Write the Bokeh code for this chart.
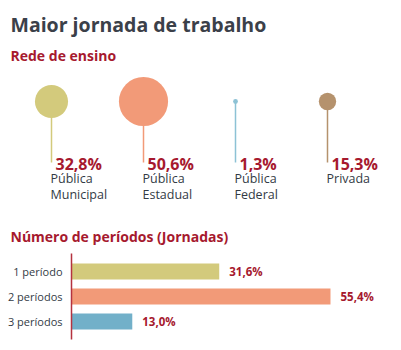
from bokeh.plotting import figure
from bokeh.models import Range1d, ColumnDataSource
from bokeh.embed import file_html
from bokeh.resources import INLINE
from bokeh.core.properties import value

# ---------------- data ----------------
title = "Maior jornada de trabalho"
section1 = "Rede de ensino"
section2 = "Número de períodos (Jornadas)"

rede_line1 = ["Pública", "Pública", "Pública", "Privada"]
rede_line2 = ["Municipal", "Estadual", "Federal", ""]
rede_values = [32.8, 50.6, 1.3, 15.3]
rede_colors = ["#d3ca7c", "#f29a78", "#8dc2d5", "#b5926d"]

periodos = ["1 período", "2 períodos", "3 períodos"]
periodo_values = [31.6, 55.4, 13.0]
periodo_colors = ["#d3ca7c", "#f29a78", "#72b0c9"]

FONT = value("Open Sans")
DARK = "#333b45"
RED = "#a6192e"


def fmt(v):
    return f"{v:.1f}".replace(".", ",") + "%"


W, H = 401, 350
p = figure(width=W, height=H, x_range=Range1d(0, W), y_range=Range1d(H, 0),
           x_axis_location=None, y_axis_location=None, toolbar_location=None,
           output_backend="svg", min_border=0)
p.grid.grid_line_color = None
p.outline_line_color = None

# bar value scale: 0 at x=71 px, 4.675 px per percentage point
K = 4.675
X0 = 71
p.extra_x_ranges = {"bars": Range1d(-X0 / K, (W - X0) / K)}

# ---------------- titles ----------------
p.text(x=[10], y=[24], text=[title], text_font=FONT, text_font_style="bold",
       text_font_size="19.5px", text_color="#3b4049", text_baseline="alphabetic")
p.text(x=[10], y=[55], text=[section1], text_font=FONT, text_font_style="bold",
       text_font_size="14px", text_color=RED, text_baseline="alphabetic")
p.text(x=[10], y=[236], text=[section2], text_font=FONT, text_font_style="bold",
       text_font_size="14px", text_color=RED, text_baseline="alphabetic")

# ---------------- bubbles ----------------
xs = [51 + 92 * i for i in range(len(rede_values))]
src = ColumnDataSource(dict(
    x=xs,
    yc=[101] * len(xs),
    yb=[162] * len(xs),
    size=[2 * (0.45 * v + 1.8) for v in rede_values],
    color=rede_colors,
    pct=[fmt(v) for v in rede_values],
    l1=rede_line1,
    l2=rede_line2,
))
p.segment(x0="x", y0="yc", x1="x", y1="yb", line_color="color", line_width=1.5, source=src)
p.scatter(x="x", y="yc", size="size", fill_color="color", line_color=None, source=src)
p.text(x="x", y="yb", text="pct", x_offset=4, y_offset=1, text_font=FONT, text_font_style="bold",
       text_font_size="16px", text_color=RED, text_baseline="alphabetic", source=src)
p.text(x="x", y="yb", text="l1", x_offset=-1, y_offset=16, text_font=FONT,
       text_font_size="12.5px", text_color=DARK, text_baseline="alphabetic", source=src)
p.text(x="x", y="yb", text="l2", x_offset=-1, y_offset=32, text_font=FONT,
       text_font_size="12.5px", text_color=DARK, text_baseline="alphabetic", source=src)

# ---------------- bars ----------------
ys = [271 + 25 * i for i in range(len(periodos))]
bsrc = ColumnDataSource(dict(y=ys, v=periodo_values, color=periodo_colors, cat=periodos,
                             lab=[fmt(v) for v in periodo_values], zero=[0] * len(ys)))
p.hbar(y="y", left="zero", right="v", height=16, fill_color="color", line_color=None,
       source=bsrc, x_range_name="bars")
p.text(x="v", y="y", text="lab", x_offset=10, text_font=FONT, text_font_style="bold",
       text_font_size="11.5px", text_color=RED, text_baseline="middle", source=bsrc,
       x_range_name="bars")
p.text(x="zero", y="y", text="cat", x_offset=-9, text_font=FONT, text_font_size="11px",
       text_color=DARK, text_baseline="middle", text_align="right", source=bsrc,
       x_range_name="bars")
# vertical axis line at zero
p.segment(x0=[0], y0=[253], x1=[0], y1=[339], line_color="#b5323f", line_width=1.5,
          x_range_name="bars")

open("out.html", "w").write(file_html(p, INLINE))
